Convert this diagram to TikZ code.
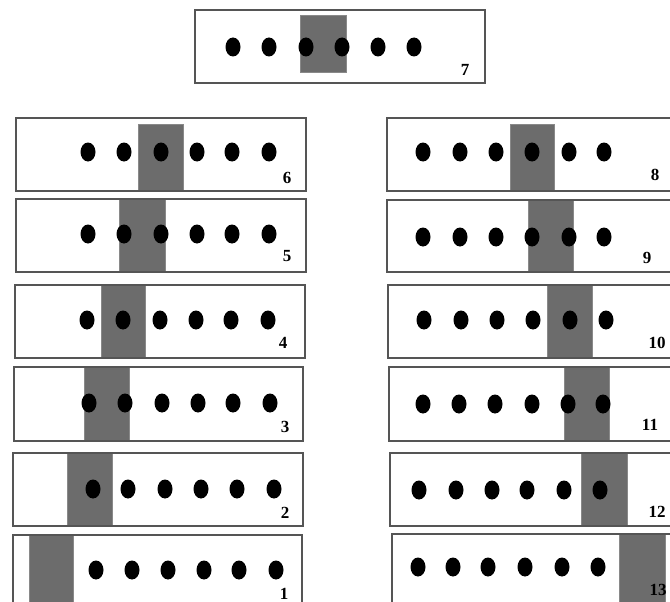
\documentclass[tikz,border=0pt]{standalone}
\usepackage{fontspec}
\setmainfont{Liberation Serif}
\usetikzlibrary{positioning}
\definecolor{slabgray}{RGB}{108,108,108}
\definecolor{framegray}{RGB}{85,85,85}

\begin{document}
\begin{tikzpicture}[
  x=1pt, y=-1pt,
  frame/.style={draw=framegray, line width=1.2pt},
  slab/.style={fill=slabgray, draw=slabgray!80, line width=0.4pt},
  bead/.style={fill=black},
  num/.style={font=\fontsize{17}{17}\selectfont\bfseries, inner sep=0pt},
]
\clip (0,0) rectangle (670,602);
\fill[white] (0,0) rectangle (670,602);

%% ── Panel 7 (top) ────────────────────────────────────────────────────────────
\fill[slab] (300,15) rectangle (346,72);
\draw[frame] (195,10) rectangle (485,83);
\foreach \x in {233,269,306,342,378,414}
  \fill[bead] (\x,47) ellipse [x radius=7.5, y radius=9.5];
\node[num] (n7) at (465,70) {7};

%% ── Left column ──────────────────────────────────────────────────────────────
\fill[slab] (138,124) rectangle (183,191);
\draw[frame] (16,118) rectangle (306,191);
\foreach \x in {88,124,161,197,232,269}
  \fill[bead] (\x,152) ellipse [x radius=7.5, y radius=9.5];
\node[num] (n6) at (287,178) {6};

\fill[slab] (119,199) rectangle (165,272);
\draw[frame] (16,199) rectangle (306,272);
\foreach \x in {88,124,161,197,232,269}
  \fill[bead] (\x,234) ellipse [x radius=7.5, y radius=9.5];
\node[num] (n5) at (287,256) {5};

\fill[slab] (101,285) rectangle (145,358);
\draw[frame] (15,285) rectangle (305,358);
\foreach \x in {87,123,160,196,231,268}
  \fill[bead] (\x,320) ellipse [x radius=7.5, y radius=9.5];
\node[num] (n4) at (283,343) {4};

\fill[slab] (84,367) rectangle (129,441);
\draw[frame] (14,367) rectangle (303,441);
\foreach \x in {89,125,162,198,233,270}
  \fill[bead] (\x,403) ellipse [x radius=7.5, y radius=9.5];
\node[num] (n3) at (285,427) {3};

\fill[slab] (67,453) rectangle (112,526);
\draw[frame] (13,453) rectangle (303,526);
\foreach \x in {93,128,165,201,237,274}
  \fill[bead] (\x,489) ellipse [x radius=7.5, y radius=9.5];
\node[num] (n2) at (285,513) {2};

\fill[slab] (29,535) rectangle (73,620);
\draw[frame] (13,535) rectangle (302,620);
\foreach \x in {96,132,168,204,239,276}
  \fill[bead] (\x,570) ellipse [x radius=7.5, y radius=9.5];
\node[num] (n1) at (284,594) {1};

%% ── Right column ─────────────────────────────────────────────────────────────
\fill[slab] (510,124) rectangle (554,191);
\draw[frame] (387,118) rectangle (690,191);
\foreach \x in {423,460,496,532,569,604}
  \fill[bead] (\x,152) ellipse [x radius=7.5, y radius=9.5];
\node[num] (n8) at (655,175) {8};

\fill[slab] (528,200) rectangle (573,272);
\draw[frame] (387,200) rectangle (690,272);
\foreach \x in {423,460,496,532,569,604}
  \fill[bead] (\x,237) ellipse [x radius=7.5, y radius=9.5];
\node[num] (n9) at (647,258) {9};

\fill[slab] (547,285) rectangle (592,358);
\draw[frame] (388,285) rectangle (690,358);
\foreach \x in {424,461,497,533,570,606}
  \fill[bead] (\x,320) ellipse [x radius=7.5, y radius=9.5];
\node[num] (n10) at (657,343) {10};

\fill[slab] (564,367) rectangle (609,441);
\draw[frame] (389,367) rectangle (690,441);
\foreach \x in {423,459,495,532,568,603}
  \fill[bead] (\x,404) ellipse [x radius=7.5, y radius=9.5];
\node[num] (n11) at (650,425) {11};

\fill[slab] (581,453) rectangle (627,526);
\draw[frame] (390,453) rectangle (690,526);
\foreach \x in {419,456,492,527,564,600}
  \fill[bead] (\x,490) ellipse [x radius=7.5, y radius=9.5];
\node[num] (n12) at (657,512) {12};

\fill[slab] (619,534) rectangle (665,620);
\draw[frame] (392,534) rectangle (690,620);
\foreach \x in {418,453,488,525,562,598}
  \fill[bead] (\x,567) ellipse [x radius=7.5, y radius=9.5];
\node[num] (n13) at (658,590) {13};

\end{tikzpicture}
\end{document}
